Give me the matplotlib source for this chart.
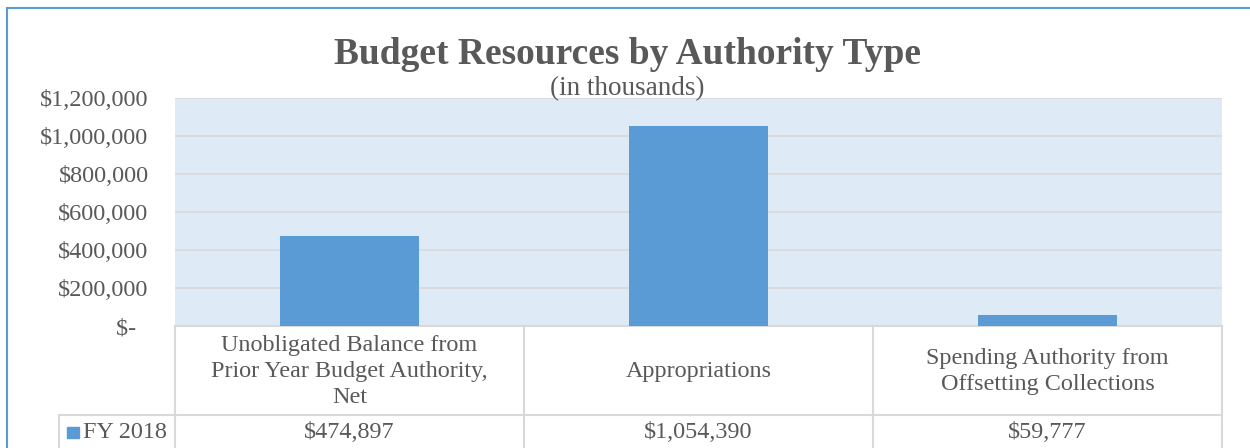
import matplotlib
matplotlib.use("Agg")
import matplotlib.pyplot as plt
from matplotlib.patches import Rectangle
from matplotlib.lines import Line2D
from matplotlib.ticker import FuncFormatter, MultipleLocator
import matplotlib.transforms as mtransforms

# data (in thousands)
categories = ["Unobligated Balance from\nPrior Year Budget Authority,\nNet",
              "Appropriations",
              "Spending Authority from\nOffsetting Collections"]
values = [474897, 1054390, 59777]
series_name = "FY 2018"

bar_color = "#5B9BD5"
text_color = "#595959"
grid_color = "#D9D9D9"

plt.rcParams["font.family"] = ["Liberation Serif", "DejaVu Serif"]

W, H = 1250, 448
fig = plt.figure(figsize=(W / 100, H / 100), dpi=100)

# plot area in pixel terms
left, right, top, bottom = 175, 1222, 98, 326
ax = fig.add_axes([left / W, 1 - bottom / H, (right - left) / W, (bottom - top) / H])
ax.set_facecolor("#DEEAF6")

x = list(range(len(values)))
ax.bar(x, values, width=0.4, color=bar_color, zorder=3)
ax.set_xlim(-0.5, len(values) - 0.5)
ax.set_ylim(0, 1200000)
ax.yaxis.set_major_locator(MultipleLocator(200000))
ax.yaxis.set_major_formatter(FuncFormatter(
    lambda v, p: "$-  " if v == 0 else "${:,.0f}".format(v)))
ax.grid(axis="y", color=grid_color, lw=1.2, zorder=1)
ax.set_xticks([])
ax.tick_params(axis="y", length=0, pad=19, labelsize=17.5, labelcolor=text_color)
for s in ax.spines.values():
    s.set_visible(False)

# data table below the plot
trans = mtransforms.blended_transform_factory(ax.transData, ax.transAxes)
row1 = (bottom - 415) / (bottom - top)   # bottom of category row (axes coords)
row2 = row1 - 0.16                        # bottom of value row
legend_left = -0.5 - (left - 59) / ((right - left) / len(values))
edges = [-0.5 + i for i in range(len(values) + 1)]

def tline(xs, ys):
    ax.add_line(Line2D(xs, ys, transform=trans, color=grid_color, lw=1.5, clip_on=False))

tline([edges[0], edges[-1]], [0, 0])
tline([legend_left, edges[-1]], [row1, row1])
tline([legend_left, edges[-1]], [row2, row2])
for e in edges:
    tline([e, e], [0, row2])
tline([legend_left, legend_left], [row1, row2])

for i, (cat, val) in enumerate(zip(categories, values)):
    ax.text(i, row1 / 2 - 0.005, cat, transform=trans, ha="center", va="center",
            fontsize=17.4, color=text_color, linespacing=1.3)
    ax.text(i, (row1 + row2) / 2 + 0.005, "${:,}".format(val), transform=trans,
            ha="center", va="center", fontsize=17.4, color=text_color)

ax.add_patch(Rectangle((legend_left + 0.024, (row1 + row2) / 2 - 0.022), 0.034, 0.048,
                       transform=trans, color=bar_color, clip_on=False))
ax.text(legend_left + 0.068, (row1 + row2) / 2 + 0.005, series_name, transform=trans,
        ha="left", va="center", fontsize=17.4, color=text_color)

# titles
fig.text(0.502, 1 - 55 / H, "Budget Resources by Authority Type", ha="center", va="center",
         fontsize=27, fontweight="bold", color=text_color)
fig.text(0.502, 1 - 89 / H, "(in thousands)", ha="center", va="center",
         fontsize=19.5, color=text_color)

# outer chart border
fig.add_artist(Rectangle((7 / W, -0.1), 1.2, 1 - 8 / H + 0.1, transform=fig.transFigure,
                         fill=False, edgecolor=bar_color, lw=1.5, clip_on=False))

fig.savefig("out.png", dpi=100)
